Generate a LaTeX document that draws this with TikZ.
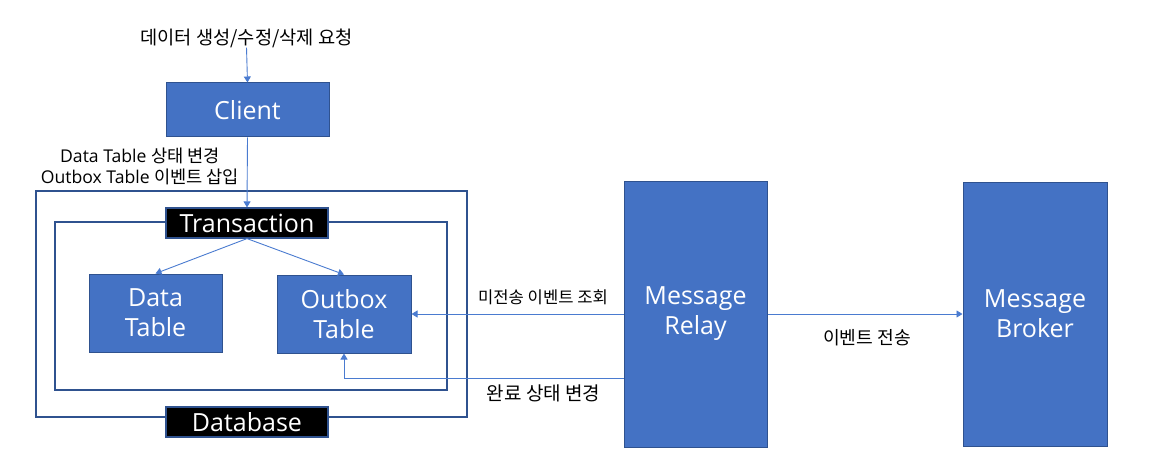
\documentclass[tikz,border=0pt]{standalone}
\usepackage{fontspec}
\setmainfont{Open Sans}
\newfontfamily\kr{Noto Sans CJK KR}
\usetikzlibrary{arrows.meta}
\definecolor{boxblue}{HTML}{4472C4}
\definecolor{edgeblue}{HTML}{2F528F}
\definecolor{linkblue}{HTML}{4A7BD0}
\tikzset{
  bluebox/.style={draw=edgeblue, line width=1pt, fill=boxblue, text=white, inner sep=0pt, align=center, font=\fontsize{25}{30}\selectfont},
  tagbox/.style={draw=edgeblue, line width=1.2pt, fill=black, text=white, inner sep=0pt, minimum width=162pt, minimum height=30pt, font=\fontsize{25}{30}\selectfont},
  frame/.style={draw=edgeblue, line width=1.3pt},
  conn/.style={draw=linkblue, line width=0.9pt, -{Triangle[width=7pt,length=6pt]}},
  lbl/.style={inner sep=0pt, align=center}
}
\begin{document}
\begin{tikzpicture}[x=1pt,y=-1pt]
\useasboundingbox (0,0) rectangle (1155,473);
% frames
\draw[frame] (36,191) rectangle (467,417);
\draw[frame] (55,222) rectangle (447,390);
% nodes
\node[lbl, font=\fontsize{18.7}{22}\selectfont] (req) at (246.5,38) {\kr 데이터 생성/수정/삭제 요청};
\node[bluebox, minimum width=163pt, minimum height=54pt] (client) at (247.5,110) {Client};
\node[lbl, font=\fontsize{17.6}{21}\selectfont] (txlbl) at (140,166) {Data Table {\kr 상태 변경}\\Outbox Table {\kr 이벤트 삽입}};
\node[tagbox] (tx) at (247,223) {Transaction};
\node[tagbox] (db) at (247,422) {Database};
\node[bluebox, minimum width=133pt, minimum height=78pt] (data) at (155.5,313) {Data\\Table};
\node[bluebox, minimum width=134pt, minimum height=78pt] (outbox) at (344,314) {Outbox\\Table};
\node[bluebox, minimum width=143pt, minimum height=266pt] (relay) at (695.5,314) {Message\\Relay};
\node[bluebox, minimum width=144pt, minimum height=264pt] (broker) at (1035,314) {Message\\Broker};
% labels
\node[lbl, font=\fontsize{16.6}{20}\selectfont] (l1) at (543,297) {\kr 미전송 이벤트 조회};
\node[lbl, font=\fontsize{19}{22}\selectfont] (l2) at (543.5,393) {\kr 완료 상태 변경};
\node[lbl, font=\fontsize{18.2}{22}\selectfont] (l3) at (867,338) {\kr 이벤트 전송};
% connectors
\draw[conn] (req.south) -- (client.north);
\draw[conn] (client.south) -- (tx.north);
\draw[conn] (tx.south) -- (data.north);
\draw[conn] (tx.south) -- (outbox.north);
\draw[conn] (relay.west) -- (outbox.east);
\draw[conn] ([yshift=-64pt]relay.west) -| (outbox.south);
\draw[conn] (relay.east) -- (broker.west);
\end{tikzpicture}
\end{document}
